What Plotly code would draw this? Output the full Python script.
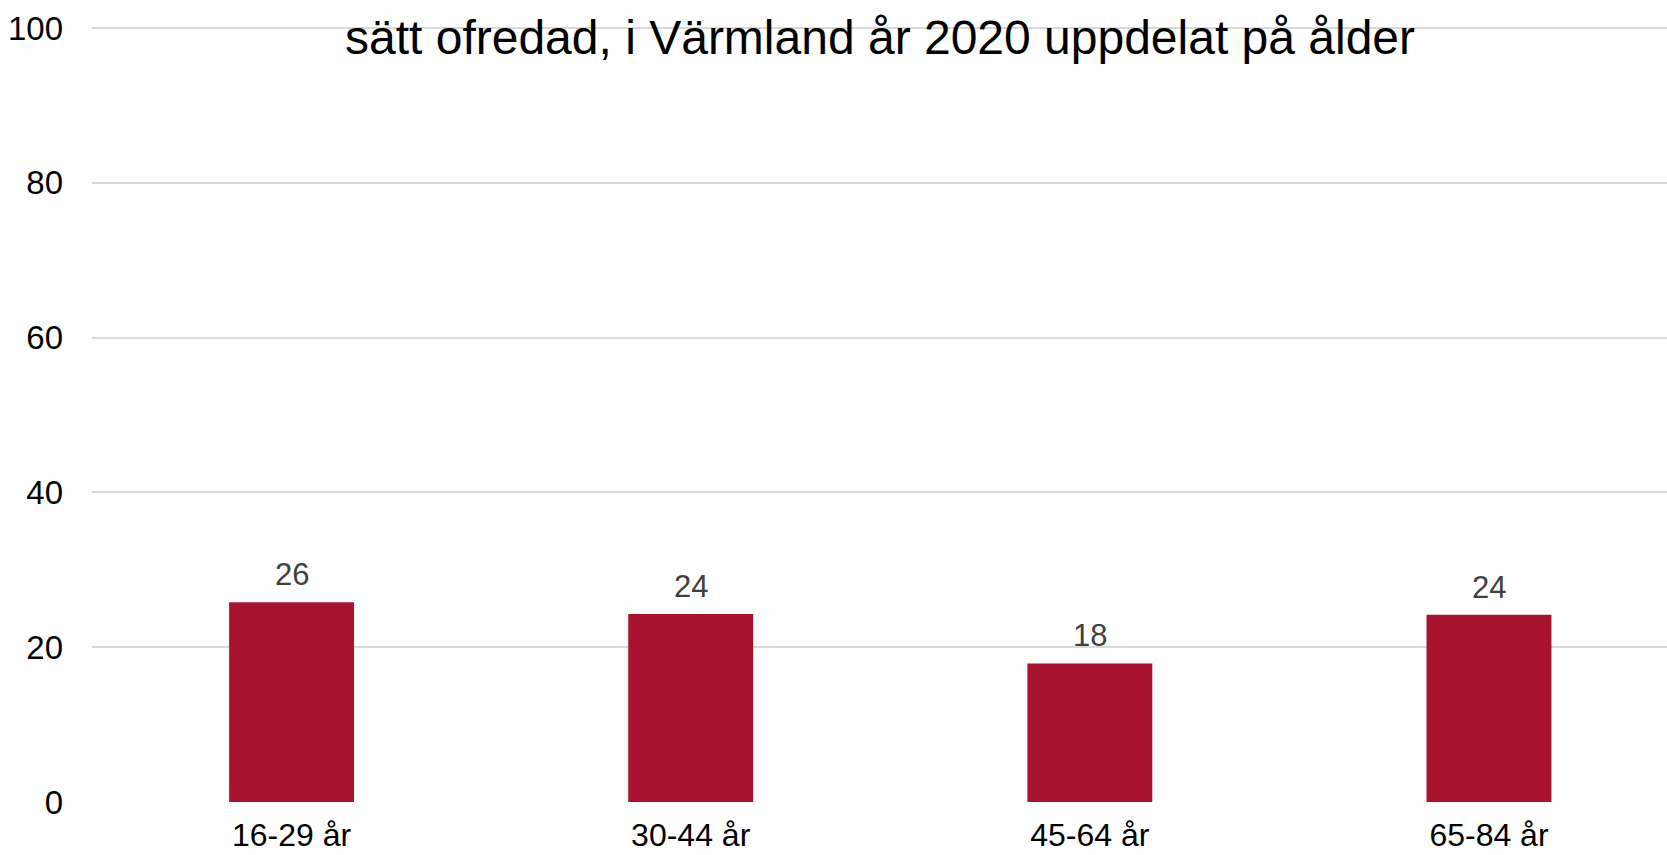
import plotly.graph_objects as go

categories = ["16-29 år", "30-44 år", "45-64 år", "65-84 år"]
values = [25.8, 24.3, 17.9, 24.2]
y_ticks = [0, 20, 40, 60, 80, 100]
title_text = "sätt ofredad, i Värmland år 2020 uppdelat på ålder"

BAR_COLOR = "#A8132F"
FONT = "Liberation Sans, Arial, sans-serif"

W, H = 1667, 855
ML, MT, MB = 92, 26, 53

fig = go.Figure()
fig.add_trace(go.Bar(
    x=categories,
    y=values,
    marker=dict(color=BAR_COLOR, line=dict(width=0)),
    width=0.313,
    hoverinfo="skip",
))

for c, v in zip(categories, values):
    fig.add_annotation(
        x=c, y=v, xref="x", yref="y",
        text=f"{v:.0f}",
        showarrow=False,
        yanchor="bottom",
        yshift=8,
        font=dict(family=FONT, size=31, color="#404040"),
    )

fig.add_annotation(
    x=(880 - ML) / (W - ML), xref="paper", y=1, yref="paper",
    text=title_text, showarrow=False,
    xanchor="center", yanchor="middle", yshift=-11,
    font=dict(family=FONT, size=48, color="#000000"),
)

fig.update_layout(
    width=W, height=H,
    margin=dict(l=ML, r=0, t=MT, b=MB, pad=0, autoexpand=False),
    paper_bgcolor="white", plot_bgcolor="white",
    showlegend=False,
    font=dict(family=FONT, color="#000000"),
    xaxis=dict(
        type="category",
        range=[-0.5, 3.446],
        automargin=False,
        showgrid=False, showline=False, zeroline=False,
        ticks="", ticklabelstandoff=11,
        tickfont=dict(family=FONT, size=32, color="#000000"),
    ),
    yaxis=dict(
        range=[0, 100.25],
        tickvals=y_ticks,
        automargin=False,
        showgrid=True, gridcolor="#D9D9D9", gridwidth=1.5,
        showline=False, zeroline=False,
        ticks="", ticklabelstandoff=28,
        tickfont=dict(family=FONT, size=33, color="#000000"),
    ),
)

fig.write_html(
    "out.html",
    config={"displayModeBar": False},
    post_script="document.body.style.margin='0';document.body.style.overflow='hidden';",
)
